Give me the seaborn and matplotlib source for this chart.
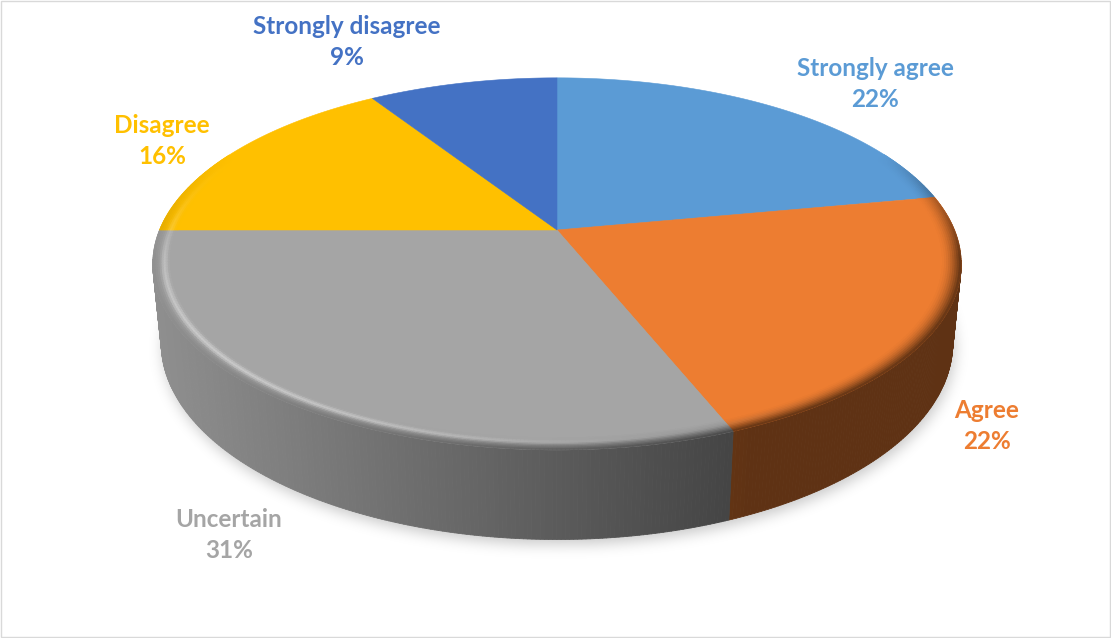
import numpy as np
import matplotlib
matplotlib.use("Agg")
import matplotlib.pyplot as plt
from matplotlib.collections import PolyCollection
from matplotlib.path import Path
from matplotlib.patches import Rectangle
from matplotlib.colors import to_rgb
import seaborn as sns

# ---- data -------------------------------------------------------------
categories = ["Strongly agree", "Agree", "Uncertain", "Disagree", "Strongly disagree"]
shares = [22, 22, 31, 16, 9]
slice_colors = ["#5B9BD5", "#ED7D31", "#A5A5A5", "#FFC000", "#4472C4"]

# ---- layout -----------------------------------------------------------
W, H = 1111, 638
label_xy = [(875, 84), (987, 426), (229, 535), (162, 141), (347, 42)]
LINE_GAP = 31

sns.set_theme(style="white")
plt.rcParams["font.family"] = ["Lato", "DejaVu Sans"]
palette = sns.color_palette(slice_colors)

fig = plt.figure(figsize=(W / 100, H / 100), dpi=100)
ax = fig.add_axes([0, 0, 1, 1])
ax.set_xlim(0, W)
ax.set_ylim(H, 0)
ax.axis("off")

# perspective camera looking down on a unit-radius disk
CX, CY = 557, 230
SCALE = 397.5
TILT = np.radians(26.9)
DIST = 4.9
THICK = 0.225
BEVEL = 0.05


def project(theta, r=1.0, y=0.0):
    X = r * np.sin(theta)
    Z = r * np.cos(theta)
    depth = DIST - y * np.sin(TILT) + Z * np.cos(TILT)
    f = SCALE * DIST / depth
    return CX + f * X, CY - f * (y * np.cos(TILT) + Z * np.sin(TILT))


def side_light(px):
    # light from the left: side walls darken toward the right
    return np.clip(0.86 - (px - 160) * 0.45 / 580, 0.40, 0.9)


total = float(sum(shares))
bounds = 2 * np.pi * np.concatenate([[0], np.cumsum(shares)]) / total

# ---- soft drop shadow under the disk -------------------------------------
t_all = np.linspace(0, 2 * np.pi, 721)
bx, by = project(t_all, 1.0, -THICK)
outline = Path(np.column_stack([bx + 2, by + 5]))
gx, gy = np.meshgrid(np.arange(W) + 0.5, np.arange(H) + 0.5)
mask = outline.contains_points(np.column_stack([gx.ravel(), gy.ravel()])).reshape(H, W).astype(float)
sig = 7.0
k = np.arange(-int(3 * sig), int(3 * sig) + 1)
kern = np.exp(-0.5 * (k / sig) ** 2)
kern /= kern.sum()
mask = np.apply_along_axis(lambda r: np.convolve(r, kern, mode="same"), 1, mask)
mask = np.apply_along_axis(lambda c: np.convolve(c, kern, mode="same"), 0, mask)
shadow = np.zeros((H, W, 4))
shadow[..., 3] = 0.22 * mask
ax.imshow(shadow, extent=(0, W, H, 0), zorder=1, interpolation="bilinear")

# ---- side walls -----------------------------------------------------------
wall_polys, wall_cols = [], []
for i, col in enumerate(palette):
    base = np.array(to_rgb(col))
    ts = np.linspace(bounds[i], bounds[i + 1], max(4, int(np.degrees(bounds[i + 1] - bounds[i]) * 2)))
    for a, b in zip(ts[:-1], ts[1:]):
        m = 0.5 * (a + b)
        if np.cos(m) > -0.16:
            continue
        x0, y0 = project(a)
        x1, y1 = project(b)
        x2, y2 = project(b, 1.0, -THICK)
        x3, y3 = project(a, 1.0, -THICK)
        wall_polys.append([(x0, y0), (x1, y1), (x2, y2), (x3, y3)])
        wall_cols.append(base * side_light(0.5 * (x0 + x1)))
ax.add_collection(PolyCollection(wall_polys, facecolors=wall_cols, edgecolors=wall_cols,
                                 linewidths=0.6, zorder=2))

# ---- top faces ------------------------------------------------------------
for i, col in enumerate(palette):
    ts = np.linspace(bounds[i], bounds[i + 1], 200)
    xs, ys = project(ts)
    pts = [(CX, CY)] + list(zip(xs, ys))
    ax.add_patch(plt.Polygon(pts, closed=True, facecolor=col, edgecolor=col,
                             linewidth=0.4, zorder=3))

# ---- rounded rim (bevel) on the front edge --------------------------------
bev_polys, bev_cols = [], []
nu = 10
us = np.linspace(0, 1, nu + 1)
for i, col in enumerate(palette):
    base = np.array(to_rgb(col))
    ts = np.linspace(bounds[i], bounds[i + 1], max(4, int(np.degrees(bounds[i + 1] - bounds[i]) * 2)))
    for a, b in zip(ts[:-1], ts[1:]):
        m = 0.5 * (a + b)
        vis = np.clip((0.45 - np.cos(m)) / 0.6, 0, 1)
        if vis <= 0:
            continue
        rimx, _ = project(m)
        sl = side_light(rimx)
        spec_amp = 0.45 * max(0.0, np.cos(m - np.radians(228))) ** 2
        for u0, u1 in zip(us[:-1], us[1:]):
            uc = 0.5 * (u0 + u1)
            w = 1 - np.cos(uc * np.pi / 2)
            c = base * ((1 - w) + w * sl)
            spec = spec_amp * np.exp(-((uc - 0.45) / 0.16) ** 2)
            c = c + spec * (1 - c)
            c = base + vis * (c - base)
            r0 = 1 - BEVEL * (1 - u0)
            r1 = 1 - BEVEL * (1 - u1)
            p0 = project(a, r0)
            p1 = project(b, r0)
            p2 = project(b, r1)
            p3 = project(a, r1)
            bev_polys.append([p0, p1, p2, p3])
            bev_cols.append(np.clip(c, 0, 1))
ax.add_collection(PolyCollection(bev_polys, facecolors=bev_cols, edgecolors=bev_cols,
                                 linewidths=0.5, zorder=4))

# ---- data labels ----------------------------------------------------------
for name, val, col, (lx, ly) in zip(categories, shares, palette, label_xy):
    ax.text(lx, ly - LINE_GAP / 2, name, color=col, fontsize=17.5, fontweight="bold",
            ha="center", va="center", zorder=6)
    ax.text(lx, ly + LINE_GAP / 2, f"{val}%", color=col, fontsize=17.5, fontweight="bold",
            ha="center", va="center", zorder=6)

# chart frame
ax.add_patch(Rectangle((0.5, 0.5), W - 2, H - 2, fill=False, edgecolor="#D9D9D9",
                       linewidth=1.0, zorder=7))

fig.savefig("out.png", dpi=100)
